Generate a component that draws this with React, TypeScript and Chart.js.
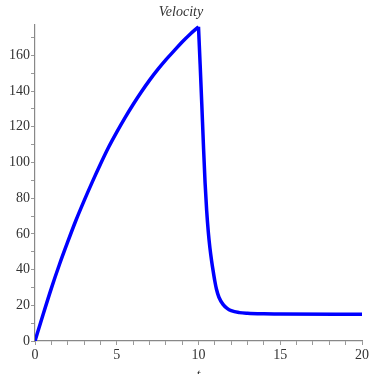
import React, { useEffect, useRef } from "react";
import { Chart, registerables } from "chart.js";

Chart.register(...registerables);

// rising phase (engine burn): time samples and velocity
const tRise = [0, 0.5, 1, 1.5, 2, 2.5, 3, 3.5, 4, 4.5, 5, 5.5, 6, 6.5, 7, 7.5, 8, 8.5, 9, 9.5, 10];
const vRise = [
  0, 15, 29.5, 43, 55.5, 67.5, 78.5, 89, 99, 108.5, 117, 125, 132.5, 139.5, 146, 152,
  157.5, 162.5, 167.5, 172, 176,
];
// falling phase: time samples and velocity
const tFall = [10, 10.1, 10.2, 10.3, 10.4, 10.5, 10.6, 10.7, 10.8, 10.9, 11, 11.1, 11.25, 11.5, 11.75, 12, 12.5, 13, 14, 15, 20];
const vFall = [176, 155, 133, 110, 89, 73, 61, 52, 45, 39, 33.5, 29, 24.5, 20.5, 18.3, 17, 15.9, 15.5, 15.2, 15.1, 15];

const xTickValues = [0, 1, 2, 3, 4, 5, 6, 7, 8, 9, 10, 11, 12, 13, 14, 15, 16, 17, 18, 19, 20];
const xLabelValues = [0, 5, 10, 15, 20];
const yTickValues = [0, 10, 20, 30, 40, 50, 60, 70, 80, 90, 100, 110, 120, 130, 140, 150, 160, 170];
const yLabelValues = [0, 20, 40, 60, 80, 100, 120, 140, 160];

const titleText = "Velocity";
const xTitle = "t";

export default function App() {
  const ref = useRef<HTMLCanvasElement | null>(null);

  useEffect(() => {
    if (!ref.current) return;
    const lineStyle = {
      borderColor: "#0000ff",
      borderWidth: 3.5,
      pointRadius: 0,
      cubicInterpolationMode: "monotone" as const,
      fill: false,
    };
    const chart = new Chart(ref.current, {
      type: "line",
      data: {
        datasets: [
          { data: tRise.map((t, i) => ({ x: t, y: vRise[i] })), ...lineStyle },
          { data: tFall.map((t, i) => ({ x: t, y: vFall[i] })), ...lineStyle },
        ],
      },
      options: {
        animation: false,
        responsive: false,
        layout: { padding: { left: 0, right: 10, top: 0, bottom: 0 } },
        plugins: {
          legend: { display: false },
          tooltip: { enabled: false },
          title: {
            display: true,
            text: titleText,
            color: "#333",
            font: { family: "Liberation Serif", size: 14, style: "italic", weight: "normal" },
            padding: { top: 4, bottom: 4.2 },
          },
        },
        scales: {
          x: {
            type: "linear",
            min: 0,
            max: 20,
            afterBuildTicks: (scale: any) => {
              scale.ticks = xTickValues.map((v) => ({ value: v }));
            },
            afterFit: (scale: any) => {
              scale.height = 46;
            },
            ticks: {
              autoSkip: false,
              maxRotation: 0,
              padding: 2,
              color: "#333",
              font: { family: "Liberation Serif", size: 14 },
              callback: (v: any) => (xLabelValues.includes(Number(v)) ? String(v) : ""),
            },
            grid: {
              drawOnChartArea: false,
              drawTicks: true,
              tickLength: 4,
              color: "#999",
            },
            border: { color: "#888", width: 1.2 },
            title: {
              display: true,
              text: xTitle,
              color: "#333",
              font: { family: "Liberation Serif", size: 14, style: "italic" },
              padding: { top: 0, bottom: 3 },
            },
          },
          y: {
            type: "linear",
            min: 0,
            max: 177,
            afterBuildTicks: (scale: any) => {
              scale.ticks = yTickValues.map((v) => ({ value: v }));
            },
            afterFit: (scale: any) => {
              scale.width = 35;
            },
            ticks: {
              autoSkip: false,
              padding: 1,
              color: "#333",
              font: { family: "Liberation Serif", size: 14 },
              callback: (v: any) => (yLabelValues.includes(Number(v)) ? String(v) : ""),
            },
            grid: {
              drawOnChartArea: false,
              drawTicks: true,
              tickLength: 4,
              color: "#999",
            },
            border: { color: "#888", width: 1.2 },
          },
        },
      },
    });
    return () => chart.destroy();
  }, []);

  return (
    <div
      style={{
        position: "fixed",
        left: 0,
        top: 0,
        width: 372,
        height: 374,
        overflow: "hidden",
        background: "#fff",
      }}
    >
      <canvas ref={ref} width={372} height={387} style={{ display: "block" }} />
    </div>
  );
}
